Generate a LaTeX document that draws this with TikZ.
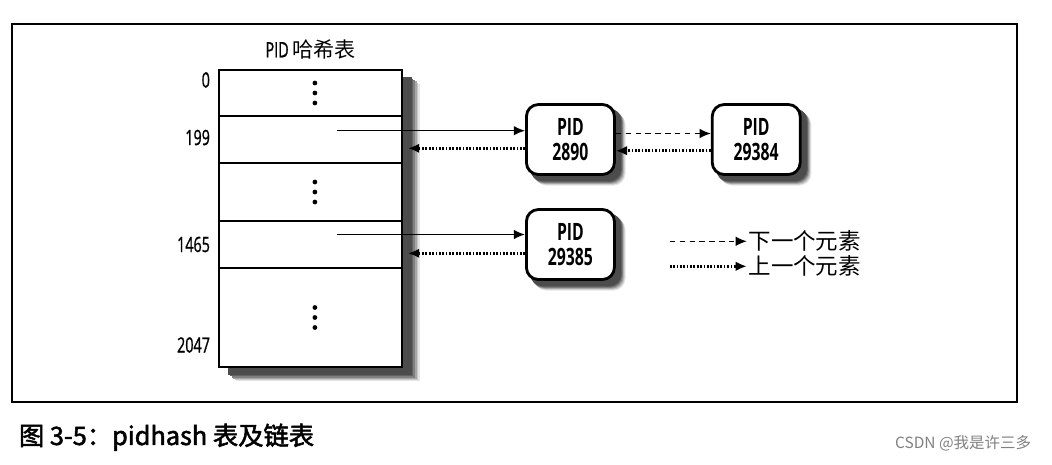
\documentclass[tikz,border=0pt]{standalone}
\usepackage{fontspec}
\setmainfont{Open Sans}
\newfontfamily\cjkfont[AutoFakeBold=2]{Noto Sans CJK SC}
\newfontfamily\narrowfont[FakeStretch=0.66]{Open Sans}
\newfontfamily\labelfont[FakeStretch=0.68, FakeBold=1]{Open Sans}
\usetikzlibrary{arrows.meta,positioning,calc,backgrounds,fit}

\tikzset{
  cell/.style={draw, line width=0.9pt, minimum width=4.575cm, outer sep=0pt, inner sep=0pt},
  pidbox/.style={draw, line width=2pt, rounded corners=0.3cm, minimum width=2.2cm, minimum height=1.75cm,
    fill=white, align=center, font=\narrowfont\bfseries\fontsize{17}{18}\selectfont},
  rowlabel/.style={font=\labelfont\fontsize{15}{15}\selectfont, inner sep=0pt, anchor=east},
  entry/.style={->, line width=1pt},
  nextptr/.style={->, line width=0.9pt, dash pattern=on 4pt off 3pt},
  prevptr/.style={->, line width=1.8pt, dash pattern=on 1.2pt off 1.2pt},
  legendtext/.style={font=\cjkfont\fontsize{16}{16}\selectfont, anchor=west, inner sep=1pt},
}

\begin{document}
\begin{tikzpicture}[>={Latex[length=2.8mm,width=2.4mm]}]
  \useasboundingbox (0,0) rectangle (26.3,-11.6);
  \draw[line width=1.3pt] (0.3,-0.6) rectangle (25.425,-10.05);

  % hash table
  \node[cell, minimum height=1.15cm, anchor=north west] (c0) at (5.475,-1.75) {};
  \node[cell, minimum height=1.175cm, below=0pt of c0] (c199) {};
  \node[cell, minimum height=1.45cm, below=0pt of c199] (cmid) {};
  \node[cell, minimum height=1.175cm, below=0pt of cmid] (c1465) {};
  \node[cell, minimum height=2.475cm, below=0pt of c1465] (cend) {};
  \node[fit=(c0)(cend), inner sep=0pt] (tab) {};
  \node[above=0.15cm of c0, font=\fontsize{15}{15}\selectfont] (title) {\labelfont PID\,\cjkfont 哈希表};

  \node[rowlabel] (l0) at ([xshift=-0.22cm, yshift=-0.25cm]c0.north west) {0};
  \node[rowlabel] (l199) at ([xshift=-0.22cm, yshift=0.05cm]c199.west) {199};
  \node[rowlabel] (l1465) at ([xshift=-0.22cm]c1465.west) {1465};
  \node[rowlabel] (l2047) at ([xshift=-0.22cm, yshift=0.55cm]cend.south west) {2047};

  \foreach \c in {c0,cmid,cend}
    \foreach \d in {-0.25,0,0.25}
      \fill ([xshift=0.11cm, yshift=\d cm]\c.center) circle (1.7pt);

  % pid lists
  \node[pidbox, right=3.075cm of c199] (p2890) {PID\\2890};
  \node[pidbox, right=2.375cm of p2890] (p29384) {PID\\29384};
  \node[pidbox, right=3.075cm of c1465] (p29385) {PID\\29385};

  % soft shadows, light outside to dark inside
  \begin{scope}[on background layer]
    \foreach \s/\g in {0.44/10, 0.40/22, 0.36/35, 0.32/50, 0.28/62, 0.24/70} {
      \fill[black!\g] ([shift={(\s,-0.8*\s)}]tab.south west) rectangle ([shift={(\s,-0.8*\s)}]tab.north east);
      \foreach \p in {p2890,p29384,p29385}
        \fill[black!\g, rounded corners=0.3cm] ([shift={(0.55*\s,-0.55*\s)}]\p.south west) rectangle ([shift={(0.55*\s,-0.55*\s)}]\p.north east);
    }
    \fill[white] (tab.south west) rectangle (tab.north east);
  \end{scope}

  \draw[entry] ([xshift=0.66cm, yshift=0.22cm]c199.center) -- ([yshift=0.22cm]p2890.west);
  \draw[prevptr] ([yshift=-0.22cm]p2890.west) -- ([xshift=0.15cm, yshift=-0.22cm]c199.east);
  \draw[nextptr] ([yshift=0.15cm]p2890.east) -- ([yshift=0.15cm]p29384.west);
  \draw[prevptr] ([yshift=-0.28cm]p29384.west) -- ([yshift=-0.28cm]p2890.east);

  \draw[entry] ([xshift=0.66cm, yshift=0.25cm]c1465.center) -- ([yshift=0.25cm]p29385.west);
  \draw[prevptr] ([yshift=-0.22cm]p29385.west) -- ([xshift=0.15cm, yshift=-0.22cm]c1465.east);

  % legend
  \node[legendtext] (lnext) at ([xshift=3.275cm, yshift=0.08cm]p29385.east) {下一个元素};
  \node[legendtext] (lprev) at ([yshift=-0.625cm]lnext.west) {上一个元素};
  \coordinate[left=1.925cm of lnext.west] (nx);
  \coordinate[left=1.925cm of lprev.west] (px);
  \draw[nextptr] (nx) -- (lnext);
  \draw[prevptr] (px) -- (lprev);

  % caption
  \node[anchor=west, font=\cjkfont\bfseries\fontsize{18}{18}\selectfont] (caption) at (0.35,-10.93) {图 3-5：pidhash 表及链表};
  \node[anchor=east, font=\cjkfont\fontsize{11}{11}\selectfont, text=gray] (mark) at (25.9,-11.08) {CSDN @我是许三多};
\end{tikzpicture}
\end{document}
